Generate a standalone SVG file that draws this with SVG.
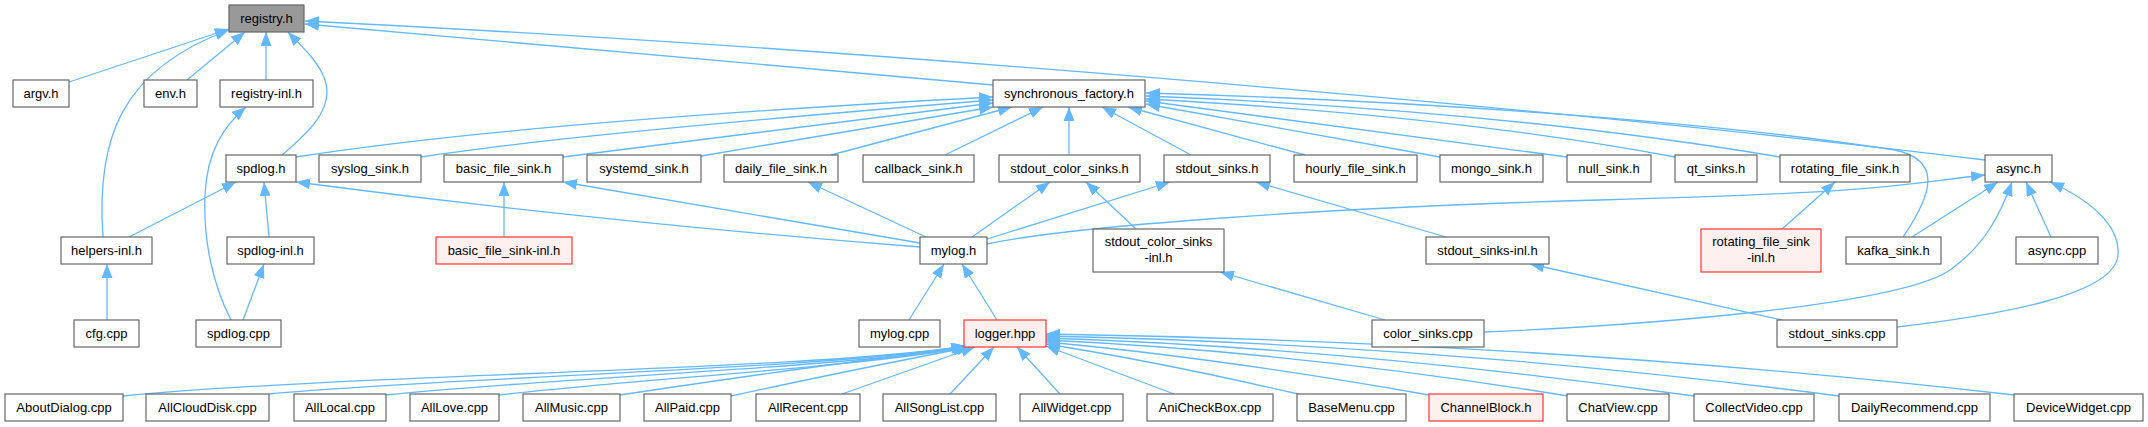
<svg xmlns="http://www.w3.org/2000/svg" width="2148" height="427" viewBox="0 0 2148 427">
<style>
.n rect{fill:#ffffff;stroke:#666666;stroke-width:1.2}
.g rect{fill:#999999}
.r rect{fill:#fff0f0;stroke:#ff3333}
text{font-family:"Liberation Sans",Arial,sans-serif;font-size:13px;text-anchor:middle;fill:#000000}
.e path{fill:none;stroke:#63b8ff;stroke-width:1.3;marker-end:url(#ah)}
</style>
<defs>
<marker id="ah" markerUnits="userSpaceOnUse" markerWidth="16" markerHeight="12" refX="14" refY="5.5" orient="auto"><path d="M0,0 L14,5.5 L0,11 z" fill="#63b8ff"/></marker>
</defs>
<rect width="2148" height="427" fill="#ffffff"/>
<g id="connectors" class="e">
<path d="M69,82 L229,29"/>
<path d="M103,237 C96,140 120,70 229,30"/>
<path d="M187,80 L245,32"/>
<path d="M266,80 L266,32"/>
<path d="M282,155 C305,135 335,110 325,80 C318,60 300,45 288,32"/>
<path d="M993,85 L305,24"/>
<path d="M1985,160 C1700,125 1000,55 305,21"/>
<path d="M231,320 C213,285 203,240 205,195 C207,150 225,125 246,107"/>
<path d="M243,320 L264,264"/>
<path d="M269,237 L264,182"/>
<path d="M129,237 L236,182"/>
<path d="M107,320 L107,264"/>
<path d="M920,247 Q600,222 296,182"/>
<path d="M920,243 L563,182"/>
<path d="M926,237 L808,182"/>
<path d="M972,237 L1050,182"/>
<path d="M987,239 L1170,182"/>
<path d="M987,244 C1060,228 1300,208 1600,200 S1900,184 1985,175"/>
<path d="M1136,229 L1086,182"/>
<path d="M1446,237 L1256,182"/>
<path d="M1385,320 L1220,272"/>
<path d="M1782,320 L1530,264"/>
<path d="M1484,332 C1650,325 1900,305 1950,270 C1985,245 2000,215 2012,182"/>
<path d="M1897,327 C2000,315 2115,295 2118,255 C2120,225 2090,200 2050,182"/>
<path d="M2051,237 L2026,182"/>
<path d="M1912,237 L1998,182"/>
<path d="M1903,237 C1935,190 1940,160 1895,150 C1700,120 1400,100 1146,93"/>
<path d="M1780,157 Q1500,110 1146,96"/>
<path d="M1675,157 Q1450,115 1146,99"/>
<path d="M1567,157 L1146,101"/>
<path d="M1440,157 L1146,104"/>
<path d="M1305,155 L1128,107"/>
<path d="M1191,155 L1102,107"/>
<path d="M1069,155 L1069,107"/>
<path d="M945,155 L1043,107"/>
<path d="M831,155 L1012,107"/>
<path d="M701,156 L993,107"/>
<path d="M563,157 L993,103"/>
<path d="M421,157 Q560,135 993,100"/>
<path d="M296,157 Q520,122 993,97"/>
<path d="M504,237 L504,182"/>
<path d="M1782,229 L1835,182"/>
<path d="M909,320 L944,264"/>
<path d="M997,320 L962,264"/>
<path d="M123,396 C350,374 820,370 965,346"/>
<path d="M269,394 C450,377 830,369 966,346"/>
<path d="M386,395 C560,377 840,368 967,347"/>
<path d="M499,395 C650,378 860,367 968,347"/>
<path d="M620,395 Q820,365 969,347"/>
<path d="M731,396 Q860,368 971,347"/>
<path d="M842,394 L975,347"/>
<path d="M950,394 L994,347"/>
<path d="M1060,394 L1017,347"/>
<path d="M1174,394 L1046,346"/>
<path d="M1298,394 Q1160,362 1046,344"/>
<path d="M1429,395 Q1220,358 1046,342"/>
<path d="M1568,396 Q1300,352 1046,340"/>
<path d="M1694,396 Q1350,348 1046,338"/>
<path d="M1839,396 Q1450,345 1046,336"/>
<path d="M2014,395 Q1550,342 1046,334"/>
</g>
<g id="registry_h" class="n g"><rect x="229" y="5" width="75" height="27"/><text x="266.5" y="23">registry.h</text></g>
<g id="argv_h" class="n"><rect x="13" y="80" width="56" height="27"/><text x="41" y="98">argv.h</text></g>
<g id="env_h" class="n"><rect x="144" y="80" width="53" height="27"/><text x="170.5" y="98">env.h</text></g>
<g id="registry_inl_h" class="n"><rect x="220" y="80" width="93" height="27"/><text x="266.5" y="98">registry-inl.h</text></g>
<g id="synchronous_factory_h" class="n"><rect x="993" y="80" width="152" height="27"/><text x="1069" y="98">synchronous_factory.h</text></g>
<g id="spdlog_h" class="n"><rect x="226" y="155" width="70" height="27"/><text x="261" y="173">spdlog.h</text></g>
<g id="syslog_sink_h" class="n"><rect x="319" y="155" width="102" height="27"/><text x="370" y="173">syslog_sink.h</text></g>
<g id="basic_file_sink_h" class="n"><rect x="444" y="155" width="119" height="27"/><text x="503.5" y="173">basic_file_sink.h</text></g>
<g id="systemd_sink_h" class="n"><rect x="587" y="155" width="114" height="27"/><text x="644" y="173">systemd_sink.h</text></g>
<g id="daily_file_sink_h" class="n"><rect x="724" y="155" width="114" height="27"/><text x="781" y="173">daily_file_sink.h</text></g>
<g id="callback_sink_h" class="n"><rect x="863" y="155" width="111" height="27"/><text x="918.5" y="173">callback_sink.h</text></g>
<g id="stdout_color_sinks_h" class="n"><rect x="999" y="155" width="141" height="27"/><text x="1069.5" y="173">stdout_color_sinks.h</text></g>
<g id="stdout_sinks_h" class="n"><rect x="1164" y="155" width="106" height="27"/><text x="1217" y="173">stdout_sinks.h</text></g>
<g id="hourly_file_sink_h" class="n"><rect x="1294" y="155" width="123" height="27"/><text x="1355.5" y="173">hourly_file_sink.h</text></g>
<g id="mongo_sink_h" class="n"><rect x="1440" y="155" width="103" height="27"/><text x="1491.5" y="173">mongo_sink.h</text></g>
<g id="null_sink_h" class="n"><rect x="1567" y="155" width="84" height="27"/><text x="1609" y="173">null_sink.h</text></g>
<g id="qt_sinks_h" class="n"><rect x="1675" y="155" width="82" height="27"/><text x="1716" y="173">qt_sinks.h</text></g>
<g id="rotating_file_sink_h" class="n"><rect x="1780" y="155" width="130" height="27"/><text x="1845" y="173">rotating_file_sink.h</text></g>
<g id="async_h" class="n"><rect x="1985" y="155" width="67" height="27"/><text x="2018.5" y="173">async.h</text></g>
<g id="helpers_inl_h" class="n"><rect x="61" y="237" width="91" height="27"/><text x="106.5" y="255">helpers-inl.h</text></g>
<g id="spdlog_inl_h" class="n"><rect x="227" y="237" width="87" height="27"/><text x="270.5" y="255">spdlog-inl.h</text></g>
<g id="basic_file_sink_inl_h" class="n r"><rect x="436" y="237" width="136" height="27"/><text x="504" y="255">basic_file_sink-inl.h</text></g>
<g id="mylog_h" class="n"><rect x="920" y="237" width="67" height="27"/><text x="953.5" y="255">mylog.h</text></g>
<g id="stdout_color_sinks_inl_h" class="n"><rect x="1093" y="229" width="131" height="43"/><text x="1158.5" y="246">stdout_color_sinks</text><text x="1158.5" y="262">-inl.h</text></g>
<g id="stdout_sinks_inl_h" class="n"><rect x="1426" y="237" width="123" height="27"/><text x="1487.5" y="255">stdout_sinks-inl.h</text></g>
<g id="rotating_file_sink_inl_h" class="n r"><rect x="1701" y="229" width="120" height="43"/><text x="1761" y="246">rotating_file_sink</text><text x="1761" y="262">-inl.h</text></g>
<g id="kafka_sink_h" class="n"><rect x="1846" y="237" width="95" height="27"/><text x="1893.5" y="255">kafka_sink.h</text></g>
<g id="async_cpp" class="n"><rect x="2016" y="237" width="82" height="27"/><text x="2057" y="255">async.cpp</text></g>
<g id="cfg_cpp" class="n"><rect x="74" y="320" width="65" height="27"/><text x="106.5" y="338">cfg.cpp</text></g>
<g id="spdlog_cpp" class="n"><rect x="196" y="320" width="85" height="27"/><text x="238.5" y="338">spdlog.cpp</text></g>
<g id="mylog_cpp" class="n"><rect x="859" y="320" width="81" height="27"/><text x="899.5" y="338">mylog.cpp</text></g>
<g id="logger_hpp" class="n r"><rect x="964" y="320" width="82" height="27"/><text x="1005" y="338">logger.hpp</text></g>
<g id="color_sinks_cpp" class="n"><rect x="1372" y="320" width="112" height="27"/><text x="1428" y="338">color_sinks.cpp</text></g>
<g id="stdout_sinks_cpp" class="n"><rect x="1777" y="320" width="120" height="27"/><text x="1837" y="338">stdout_sinks.cpp</text></g>
<g id="AboutDialog_cpp" class="n"><rect x="5" y="394" width="118" height="27"/><text x="64" y="412">AboutDialog.cpp</text></g>
<g id="AllCloudDisk_cpp" class="n"><rect x="146" y="394" width="123" height="27"/><text x="207.5" y="412">AllCloudDisk.cpp</text></g>
<g id="AllLocal_cpp" class="n"><rect x="294" y="394" width="92" height="27"/><text x="340" y="412">AllLocal.cpp</text></g>
<g id="AllLove_cpp" class="n"><rect x="410" y="394" width="89" height="27"/><text x="454.5" y="412">AllLove.cpp</text></g>
<g id="AllMusic_cpp" class="n"><rect x="523" y="394" width="97" height="27"/><text x="571.5" y="412">AllMusic.cpp</text></g>
<g id="AllPaid_cpp" class="n"><rect x="644" y="394" width="87" height="27"/><text x="687.5" y="412">AllPaid.cpp</text></g>
<g id="AllRecent_cpp" class="n"><rect x="756" y="394" width="104" height="27"/><text x="808" y="412">AllRecent.cpp</text></g>
<g id="AllSongList_cpp" class="n"><rect x="883" y="394" width="113" height="27"/><text x="939.5" y="412">AllSongList.cpp</text></g>
<g id="AllWidget_cpp" class="n"><rect x="1020" y="394" width="103" height="27"/><text x="1071.5" y="412">AllWidget.cpp</text></g>
<g id="AniCheckBox_cpp" class="n"><rect x="1147" y="394" width="126" height="27"/><text x="1210" y="412">AniCheckBox.cpp</text></g>
<g id="BaseMenu_cpp" class="n"><rect x="1297" y="394" width="109" height="27"/><text x="1351.5" y="412">BaseMenu.cpp</text></g>
<g id="ChannelBlock_h" class="n r"><rect x="1429" y="394" width="114" height="27"/><text x="1486" y="412">ChannelBlock.h</text></g>
<g id="ChatView_cpp" class="n"><rect x="1567" y="394" width="102" height="27"/><text x="1618" y="412">ChatView.cpp</text></g>
<g id="CollectVideo_cpp" class="n"><rect x="1694" y="394" width="120" height="27"/><text x="1754" y="412">CollectVideo.cpp</text></g>
<g id="DailyRecommend_cpp" class="n"><rect x="1839" y="394" width="151" height="27"/><text x="1914.5" y="412">DailyRecommend.cpp</text></g>
<g id="DeviceWidget_cpp" class="n"><rect x="2014" y="394" width="129" height="27"/><text x="2078.5" y="412">DeviceWidget.cpp</text></g>
</svg>
